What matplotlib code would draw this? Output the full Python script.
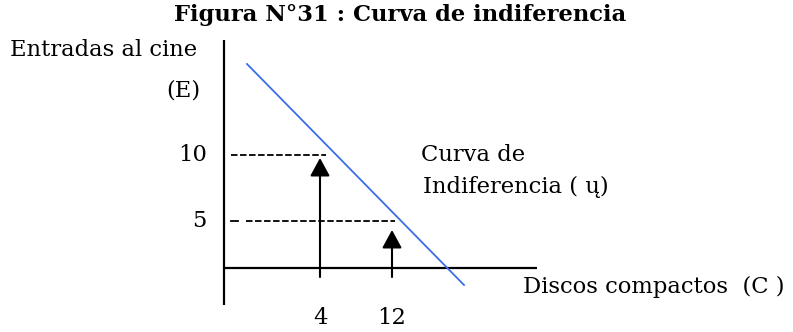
import matplotlib
matplotlib.use("Agg")
import matplotlib.pyplot as plt

# diagram units: origin at the axes crossing, 1 unit ~ 10 px
curve_c = [2.3, 24.0]
curve_e = [20.4, -1.7]

levels_e = [11.3, 4.7]          # where the 10 and 5 guide lines sit
level_labels = ["10", "5"]
guide_end_c = [10.2, 17.1]

points_c = [9.6, 16.8]          # where the 4 and 12 arrows sit
point_labels = ["4", "12"]
arrow_top = [11.0, 3.8]

title = "Figura N°31 : Curva de indiferencia"
y_label = ["Entradas al cine", "(E)"]
x_label = "Discos compactos  (C )"
curve_label = ["Curva de", "Indiferencia ( ų)"]

FS = 16.3

plt.rcParams["font.family"] = ["DejaVu Serif"]
fig = plt.figure(figsize=(7.93, 3.32), dpi=100)
ax = fig.add_axes([0, 0, 1, 1])
ax.set_xlim(-22.4, 56.9)
ax.set_ylim(-6.4, 26.8)
ax.axis("off")

# axes of the diagram
ax.plot([0, 0], [22.8, -3.7], color="black", lw=1.6, solid_capstyle="butt")
ax.plot([0, 31.3], [0, 0], color="black", lw=1.6, solid_capstyle="butt")

# indifference curve
ax.plot(curve_c, curve_e, color="#3a6ee8", lw=1.3)

# dashed guides
ax.plot([0.7, guide_end_c[0]], [levels_e[0]] * 2, color="black", lw=1.3,
        dashes=(3.6, 1.4))
ax.plot([0.7, 1.4], [levels_e[1]] * 2, color="black", lw=1.3)
ax.plot([2.2, guide_end_c[1]], [levels_e[1]] * 2, color="black", lw=1.3,
        dashes=(3.6, 1.4))

for e, lab in zip(levels_e, level_labels):
    ax.text(-1.7, e, lab, ha="right", va="center", fontsize=FS)

for c, top, lab in zip(points_c, arrow_top, point_labels):
    ax.annotate("", xy=(c, top), xytext=(c, -0.9),
                arrowprops=dict(arrowstyle="-|>,head_length=0.55,head_width=0.3",
                                mutation_scale=20, color="black", lw=1.5,
                                shrinkA=0, shrinkB=0))
    ax.text(c, -5.0, lab, ha="center", va="center", fontsize=FS)

ax.text(17.6, 25.3, title, ha="center", va="center", fontsize=FS,
        fontweight="bold")
ax.text(-21.4, 21.8, y_label[0], ha="left", va="center", fontsize=FS)
ax.text(-2.4, 17.8, y_label[1], ha="right", va="center", fontsize=FS)
ax.text(29.9, -1.9, x_label, ha="left", va="center", fontsize=FS)
ax.text(19.7, 11.3, curve_label[0], ha="left", va="center", fontsize=FS)
ax.text(19.9, 8.1, curve_label[1], ha="left", va="center", fontsize=FS)

fig.savefig("out.png", dpi=100)
